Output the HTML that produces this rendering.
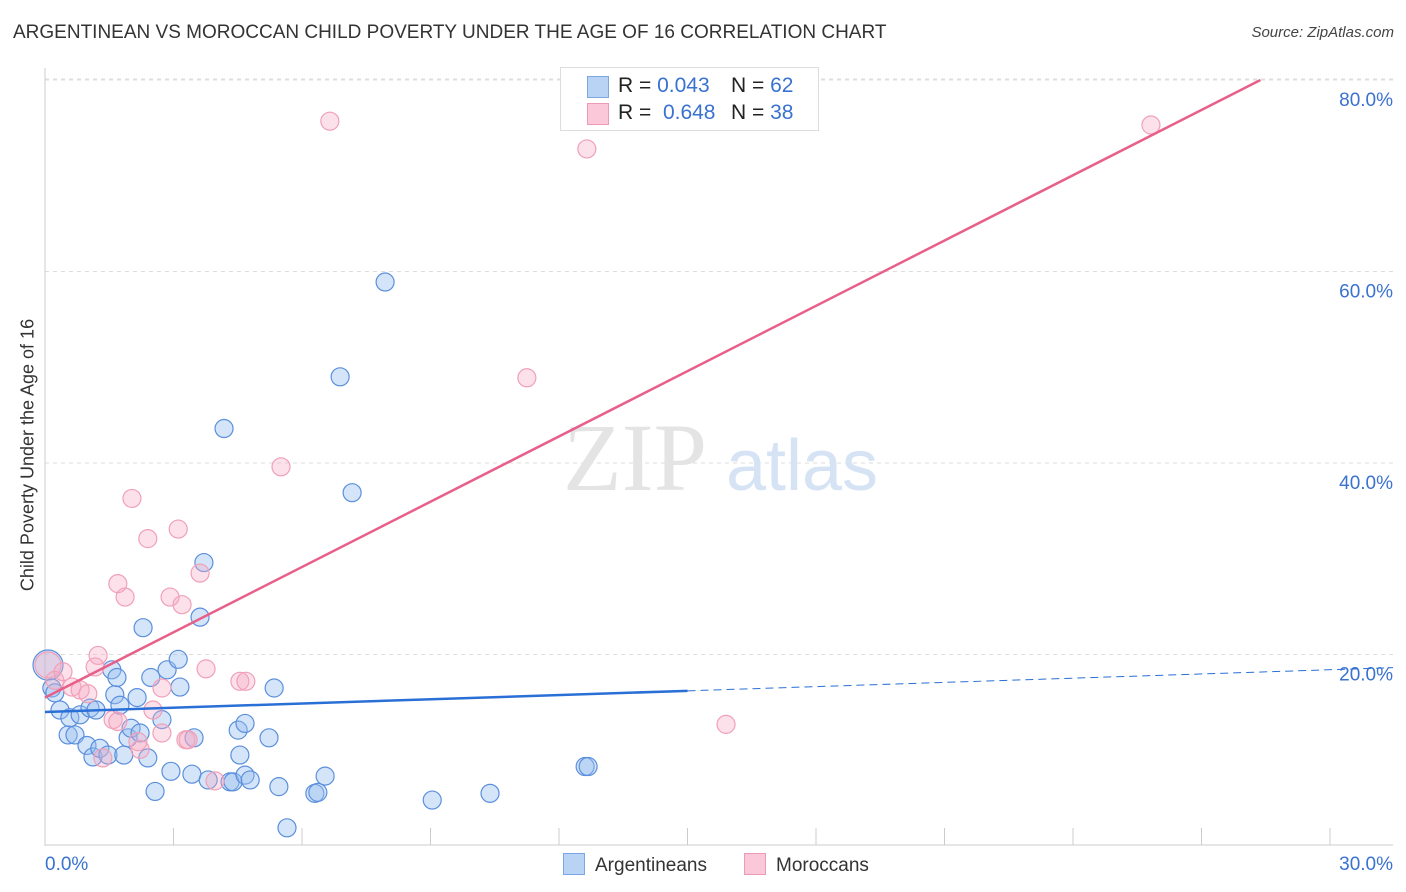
<!DOCTYPE html>
<html><head><meta charset="utf-8"><style>
body{margin:0;background:#fff;font-family:"Liberation Sans",sans-serif;}
#wrap{position:relative;width:1406px;height:892px;overflow:hidden;}
.t{position:absolute;white-space:nowrap;}
</style></head><body>
<div id="wrap">
<div class="t" style="left:13px;top:22px;font-size:19px;color:#333;">ARGENTINEAN VS MOROCCAN CHILD POVERTY UNDER THE AGE OF 16 CORRELATION CHART</div>
<div class="t" style="right:12px;top:24px;font-size:15px;color:#444;font-style:italic;">Source: ZipAtlas.com</div>
<svg id="plot" width="1406" height="892" style="position:absolute;left:0;top:0"></svg>
<div class="t" style="left:28px;top:455px;font-size:18px;color:#333;transform:translate(-50%,-50%) rotate(-90deg);">Child Poverty Under the Age of 16</div>
<div style="position:absolute;left:560px;top:67px;width:257px;height:62px;border:1px solid #ddd;background:#fff;font-size:21px;">
 <div style="position:absolute;left:26px;top:8px;width:20px;height:20px;background:#b9d3f5;border:1px solid #7ba6e0"></div>
 <div class="t" style="left:57px;top:6px;color:#222">R = <span style="color:#3a72d0">0.043</span></div>
 <div class="t" style="left:170px;top:6px;color:#222">N = <span style="color:#3a72d0">62</span></div>
 <div style="position:absolute;left:26px;top:35px;width:20px;height:20px;background:#fac8d8;border:1px solid #ee9ab5"></div>
 <div class="t" style="left:57px;top:33px;color:#222">R = &nbsp;<span style="color:#3a72d0">0.648</span></div>
 <div class="t" style="left:170px;top:33px;color:#222">N = <span style="color:#3a72d0">38</span></div>
</div>
<div style="position:absolute;left:563px;top:853px;font-size:19px;color:#333">
 <span style="display:inline-block;width:20px;height:20px;background:#b9d3f5;border:1px solid #7ba6e0;vertical-align:-4px;margin-right:10px"></span>Argentineans</div>
<div style="position:absolute;left:744px;top:853px;font-size:19px;color:#333">
 <span style="display:inline-block;width:20px;height:20px;background:#fac8d8;border:1px solid #ee9ab5;vertical-align:-4px;margin-right:10px"></span>Moroccans</div>
</div>
<script>
const blueX=[0.07,0.16,0.23,0.35,0.54,0.70,0.58,0.82,0.98,1.05,1.19,1.12,1.28,1.47,1.56,1.63,1.68,1.75,1.84,1.94,2.01,2.15,2.22,2.29,2.40,2.47,2.57,2.73,2.85,2.94,3.11,3.15,3.43,3.48,3.62,3.71,3.81,4.18,4.32,4.39,4.51,4.55,4.67,4.67,4.79,5.23,5.35,5.46,5.65,6.30,6.37,6.54,6.89,7.17,7.94,9.04,10.39,12.61,12.68];
const blueY=[18.9,16.5,16.0,14.2,11.6,11.6,13.4,13.7,10.5,14.4,14.2,9.3,10.2,9.5,18.4,15.8,17.6,14.7,9.5,11.3,12.3,15.5,11.8,22.8,9.2,17.6,5.7,13.2,18.4,7.8,19.5,16.6,7.5,11.3,23.9,29.6,6.9,43.6,6.7,6.7,12.1,9.5,12.8,7.4,6.9,11.3,16.5,6.2,1.9,5.5,5.6,7.3,49.0,36.9,58.9,4.8,5.5,8.3,8.3];
const pinkX=[0.07,0.23,0.42,0.63,0.82,1.00,1.24,1.17,1.35,1.59,1.70,2.03,1.87,1.70,2.22,2.17,2.40,2.52,2.73,2.73,2.92,3.11,3.20,3.29,3.34,3.62,3.76,3.97,4.55,4.69,5.51,6.65,11.25,12.65,15.90,25.82];
const pinkY=[18.9,17.3,18.2,16.6,16.3,15.9,19.9,18.7,9.2,13.2,13.0,36.3,26.0,27.4,10.1,10.9,32.1,14.2,16.5,11.8,26.0,33.1,25.2,11.1,11.1,28.5,18.5,6.8,17.2,17.2,39.6,75.7,48.9,72.8,12.7,75.3];
const blueLine=[14.0,0.147]; // intercept, slope
const pinkLine=[15.5,2.273];
const yTicks=[20,40,60,80];
const yTickLabels=["20.0%","40.0%","60.0%","80.0%"];
const xTicks=[0,3,6,9,12,15,18,21,24,27,30];

const NS="http://www.w3.org/2000/svg";
const svg=document.getElementById('plot');
const X=v=>45+v*1285/30, Y=v=>846-v*9.575;
function mk(t,a,name){const e=document.createElementNS(NS,t);for(const k in a)e.setAttribute(k,a[k]);svg.appendChild(e);return e;}
yTicks.forEach((v,i)=>{
 const g=mk('line',{x1:45,x2:1393,y1:Y(v),y2:Y(v),stroke:'#ddd','stroke-dasharray':'4,4'},'gridline');
 const t=mk('text',{x:1393,y:Y(v)+26,'text-anchor':'end','font-size':19,fill:'#3a72d0','font-family':'Liberation Sans'},'y-tick-label');t.textContent=yTickLabels[i];
});
mk('line',{x1:45,x2:1393,y1:79,y2:79,stroke:'#ddd','stroke-dasharray':'4,4'},'gridline-top');
mk('line',{x1:45,x2:45,y1:68,y2:846,stroke:'#ccc'},'y-axis-line');
mk('line',{x1:45,x2:1393,y1:845,y2:845,stroke:'#ccc'},'x-axis-line');
xTicks.forEach(v=>mk('line',{x1:X(v),x2:X(v),y1:828,y2:845,stroke:'#ccc'},'x-tick'));
let tl=mk('text',{x:45,y:870,'font-size':19,fill:'#3a72d0','font-family':'Liberation Sans'},'x-tick-label');tl.textContent='0.0%';
tl=mk('text',{x:1393,y:870,'text-anchor':'end','font-size':19,fill:'#3a72d0','font-family':'Liberation Sans'},'x-tick-label');tl.textContent='30.0%';
let w=mk('text',{x:635,y:490,'text-anchor':'middle','font-size':96,fill:'#e4e4e4','font-family':'Liberation Serif'},'watermark-zip');w.textContent='ZIP';
w=mk('text',{x:802,y:490,'text-anchor':'middle','font-size':72,fill:'#d6e3f5','font-family':'Liberation Sans'},'watermark-atlas');w.textContent='atlas';
blueX.forEach((x,i)=>mk('circle',{cx:X(x),cy:Y(blueY[i]),r:i==0?15:9,fill:'rgba(150,190,240,0.4)',stroke:'#5b8fdc','stroke-width':1.2},'argentinean-point'));
pinkX.forEach((x,i)=>mk('circle',{cx:X(x),cy:Y(pinkY[i]),r:i==0?13:9,fill:'rgba(245,170,195,0.35)',stroke:'#f0a0b8','stroke-width':1.2},'moroccan-point'));
mk('line',{x1:X(0),y1:Y(blueLine[0]),x2:X(15),y2:Y(blueLine[0]+15*blueLine[1]),stroke:'#2a6fd6','stroke-width':2.5},'argentinean-trend');
mk('line',{x1:X(15),y1:Y(blueLine[0]+15*blueLine[1]),x2:1393,y2:Y(blueLine[0]+31.46*blueLine[1]),stroke:'#2a6fd6','stroke-width':1,'stroke-dasharray':'8,5'},'argentinean-trend-extension');
const pxEnd=(80-pinkLine[0])/pinkLine[1];
mk('line',{x1:X(0),y1:Y(pinkLine[0]),x2:X(pxEnd),y2:Y(80),stroke:'#e8608a','stroke-width':2.5},'moroccan-trend');
</script>
</body></html>
